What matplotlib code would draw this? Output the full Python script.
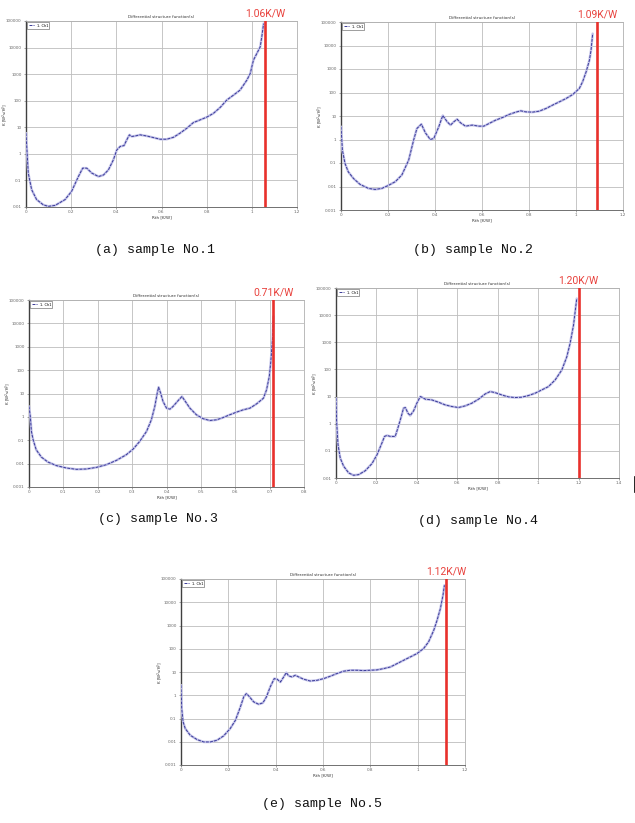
import matplotlib
matplotlib.use("Agg")
import matplotlib.pyplot as plt
from matplotlib.lines import Line2D
from matplotlib.ticker import LogLocator, FixedLocator
import matplotlib.transforms as mtransforms

# Rth [K/W] and K values
rth_a = [0, 0.010, 0.025, 0.047, 0.077, 0.099, 0.129, 0.173, 0.202, 0.232, 0.251, 0.269, 0.291,
         0.321, 0.343, 0.365, 0.387, 0.402, 0.417, 0.434, 0.446, 0.458, 0.468, 0.483, 0.505, 0.535,
         0.564, 0.594, 0.623, 0.653, 0.682, 0.712, 0.741, 0.771, 0.800, 0.830, 0.860, 0.889, 0.919,
         0.948, 0.978, 0.993, 1.007, 1.022, 1.037, 1.044, 1.052]
k_a = [6.0, 0.19, 0.045, 0.019, 0.012, 0.0106, 0.0115, 0.019, 0.039, 0.14, 0.29, 0.29, 0.19,
       0.14, 0.16, 0.25, 0.6, 1.4, 1.9, 2.05, 3.35, 5.2, 4.5, 4.7, 5.2, 4.7,
       4.1, 3.55, 3.55, 4.2, 6.0, 9.2, 15, 19, 24, 33.5, 56, 106, 163,
       251, 596, 1060, 3350, 5960, 10600, 25100, 79400]

rth_b = [0, 0.006, 0.017, 0.031, 0.053, 0.081, 0.117, 0.145, 0.174, 0.202, 0.231, 0.259, 0.288,
         0.309, 0.323, 0.342, 0.359, 0.380, 0.395, 0.416, 0.433, 0.452, 0.466, 0.480, 0.494, 0.509,
         0.530, 0.558, 0.587, 0.608, 0.630, 0.658, 0.687, 0.715, 0.744, 0.765, 0.786, 0.815, 0.843,
         0.872, 0.900, 0.929, 0.957, 0.986, 1.014, 1.028, 1.043, 1.057, 1.064, 1.071]
k_b = [3.5, 0.35, 0.096, 0.042, 0.022, 0.0123, 0.0083, 0.0075, 0.0083, 0.0112, 0.016, 0.031, 0.133,
       0.94, 2.94, 4.5, 1.93, 1.0, 1.11, 3.47, 10.5, 5.65, 4.1, 5.65, 7.3, 5.1,
       3.7, 4.1, 3.7, 3.7, 4.8, 6.65, 8.6, 11.6, 14.6, 16.6, 15, 14.6, 16,
       20.8, 28.9, 40, 55, 82, 148, 285, 750, 2350, 6300, 32000]

rth_c = [0, 0.004, 0.007, 0.012, 0.021, 0.036, 0.055, 0.080, 0.109, 0.138, 0.167, 0.196, 0.225,
         0.254, 0.283, 0.303, 0.322, 0.342, 0.356, 0.366, 0.373, 0.377, 0.383, 0.390, 0.400, 0.410,
         0.419, 0.434, 0.445, 0.453, 0.468, 0.487, 0.507, 0.526, 0.546, 0.565, 0.584, 0.604, 0.623,
         0.643, 0.662, 0.682, 0.691, 0.699, 0.703, 0.706, 0.709, 0.711]
k_c = [2.8, 0.98, 0.24, 0.105, 0.039, 0.019, 0.0117, 0.0082, 0.0065, 0.0057, 0.0059, 0.0069, 0.009,
       0.0137, 0.024, 0.042, 0.089, 0.24, 0.75, 2.8, 10.3, 18.6, 10.3, 4.55, 2.37, 2.14,
       2.79, 5.0, 7.45, 5.0, 2.37, 1.23, 0.83, 0.70, 0.75, 0.94, 1.23, 1.6, 2.0,
       2.37, 3.6, 6.3, 14.3, 53, 197, 730, 2700, 20000]

rth_d = [0, 0.003, 0.010, 0.021, 0.038, 0.063, 0.087, 0.112, 0.145, 0.178, 0.203, 0.227, 0.240,
         0.252, 0.269, 0.293, 0.306, 0.323, 0.334, 0.343, 0.356, 0.367, 0.384, 0.400, 0.417, 0.425,
         0.442, 0.474, 0.507, 0.540, 0.573, 0.606, 0.639, 0.672, 0.705, 0.738, 0.763, 0.787, 0.820,
         0.853, 0.886, 0.919, 0.952, 0.985, 1.018, 1.051, 1.084, 1.117, 1.142, 1.158, 1.175, 1.183, 1.191]
k_d = [8.7, 1.21, 0.168, 0.054, 0.027, 0.0153, 0.0126, 0.0133, 0.0186, 0.034, 0.072, 0.193, 0.34,
       0.37, 0.34, 0.34, 0.69, 1.84, 3.73, 3.95, 2.44, 2.0, 2.98, 5.7, 10, 9.46,
       8.0, 7.55, 6.2, 4.94, 4.3, 3.95, 4.54, 5.7, 8.0, 12.5, 15.3, 14, 11.5,
       9.7, 9.2, 9.46, 10.9, 13.3, 17.6, 23.3, 40.9, 95, 294, 908, 4280, 13200, 40700]

rth_e = [0, 0.003, 0.009, 0.018, 0.039, 0.068, 0.096, 0.124, 0.152, 0.180, 0.208, 0.230, 0.251,
         0.265, 0.276, 0.286, 0.307, 0.328, 0.346, 0.361, 0.377, 0.394, 0.406, 0.420, 0.434, 0.445,
         0.455, 0.469, 0.483, 0.497, 0.518, 0.546, 0.575, 0.603, 0.631, 0.659, 0.687, 0.715, 0.744,
         0.772, 0.800, 0.828, 0.856, 0.885, 0.913, 0.941, 0.969, 0.997, 1.025, 1.046, 1.068, 1.082,
         1.096, 1.107, 1.113]
k_e = [2.7, 0.27, 0.071, 0.037, 0.019, 0.0124, 0.0098, 0.0098, 0.0116, 0.0178, 0.037, 0.084, 0.315,
       0.85, 1.18, 0.94, 0.52, 0.41, 0.47, 0.85, 2.28, 5.2, 4.9, 3.7, 6.15, 9.4,
       6.8, 6.15, 7.25, 6.15, 4.9, 4.1, 4.4, 5.2, 6.6, 8.6, 10.8, 11.9, 11.9,
       11.5, 11.9, 12.3, 14, 16.5, 23, 32, 44.5, 62, 102, 197, 625, 1680,
       5340, 19950, 53700]

rth_total = [1.06, 1.09, 0.71, 1.20, 1.12]
captions = ["(a) sample No.1", "(b) sample No.2", "(c) sample No.3",
            "(d) sample No.4", "(e) sample No.5"]
x_max = [1.2, 1.2, 0.8, 1.4, 1.2]
x_step = [0.2, 0.2, 0.1, 0.2, 0.2]
y_lims = [(1e-2, 1e5), (1e-3, 1e5), (1e-3, 1e5), (1e-2, 1e5), (1e-3, 1e5)]

W, H = 635, 823
# axes boxes in pixels: left, top, right, bottom
boxes = [(26, 21, 297, 207), (341, 22, 623, 210), (29, 300, 304, 487),
         (336, 288, 619, 478), (181, 579, 465, 765)]
cap_pos = [(155, 250), (473, 250), (158, 519), (478, 521), (322, 804)]

fig = plt.figure(figsize=(W / 100, H / 100), dpi=100)
fig.patch.set_facecolor("white")


def ytick_label(v):
    if v >= 1:
        return "%d" % v
    return ("%.3f" % v).rstrip("0")


def panel(i, xs, ys):
    l, t, r, b = boxes[i]
    ax = fig.add_axes([l / W, 1 - b / H, (r - l) / W, (b - t) / H])
    ax.set_yscale("log")
    ax.set_xlim(0, x_max[i])
    ax.set_ylim(*y_lims[i])
    n = int(round(x_max[i] / x_step[i]))
    xt = [round(k * x_step[i], 2) for k in range(n + 1)]
    ax.set_xticks(xt)
    ax.set_xticklabels([("%g" % v) for v in xt], fontsize=3, color="#444444")
    lo, hi = y_lims[i]
    yt = []
    v = lo
    while v <= hi * 1.001:
        yt.append(v)
        v *= 10
    ax.yaxis.set_major_locator(FixedLocator(yt))
    ax.set_yticklabels([ytick_label(v) for v in yt], fontsize=3, color="#444444")
    ax.yaxis.set_minor_locator(LogLocator(base=10, subs=(2.0, 5.0)))
    ax.yaxis.set_minor_formatter(plt.NullFormatter())
    ax.tick_params(which="both", length=1.2, width=0.4, pad=1, colors="#666666")
    ax.tick_params(axis="y", pad=2)
    ax.grid(True, which="major", color="#bdbdbd", lw=0.6)
    ax.grid(True, which="minor", axis="y", color="#dcdcdc", lw=0.5)
    for s in ["top", "right"]:
        ax.spines[s].set_color("#b0b0b0")
        ax.spines[s].set_linewidth(0.6)
    ax.spines["left"].set_color("#404040")
    ax.spines["left"].set_linewidth(1.0)
    ax.spines["bottom"].set_color("#707070")
    ax.spines["bottom"].set_linewidth(0.7)

    ax.plot(xs, ys, color="#c4c4ea", lw=1.8, solid_capstyle="round", zorder=3)
    ax.plot(xs, ys, color="#3a3a98", lw=0.7, dashes=(3, 1.2), zorder=4, label="1. Ch1")
    leg = ax.legend(loc="upper left", fontsize=2.6, handlelength=1.5, borderpad=0.3,
                    fancybox=False, framealpha=1, borderaxespad=0.4)
    leg.get_frame().set_linewidth(0.4)
    leg.get_frame().set_edgecolor("#555555")

    ax.axvline(rth_total[i], color="#e8312c", lw=1.9, zorder=5)
    trans = mtransforms.blended_transform_factory(ax.transData, ax.transAxes)
    ax.text(rth_total[i], 1.015, "%.2fK/W" % rth_total[i], transform=trans,
            ha="center", va="bottom", color="#e8413c", fontsize=7.5, family="Roboto")

    ax.set_title("Differential structure function(s)", fontsize=3, pad=2, color="#333333")
    ax.set_xlabel("Rth [K/W]", fontsize=3, labelpad=1, color="#333333")
    ax.set_ylabel("K [W$^2$s/K$^2$]", fontsize=3, color="#333333")
    ax.yaxis.set_label_coords(-16 / (r - l), 0.5)

    cx, cy = cap_pos[i]
    fig.text(cx / W, 1 - cy / H, captions[i], ha="center", va="center",
             fontsize=9.5, family="Liberation Mono", color="#111111")
    return ax


panel(0, rth_a, k_a)
panel(1, rth_b, k_b)
panel(2, rth_c, k_c)
panel(3, rth_d, k_d)
panel(4, rth_e, k_e)

# small dark mark at the right edge of the page
fig.add_artist(Line2D([634.5 / W, 634.5 / W], [1 - 477 / H, 1 - 492 / H],
                      color="black", lw=1.2))

fig.savefig("out.png", dpi=100, facecolor="white")
